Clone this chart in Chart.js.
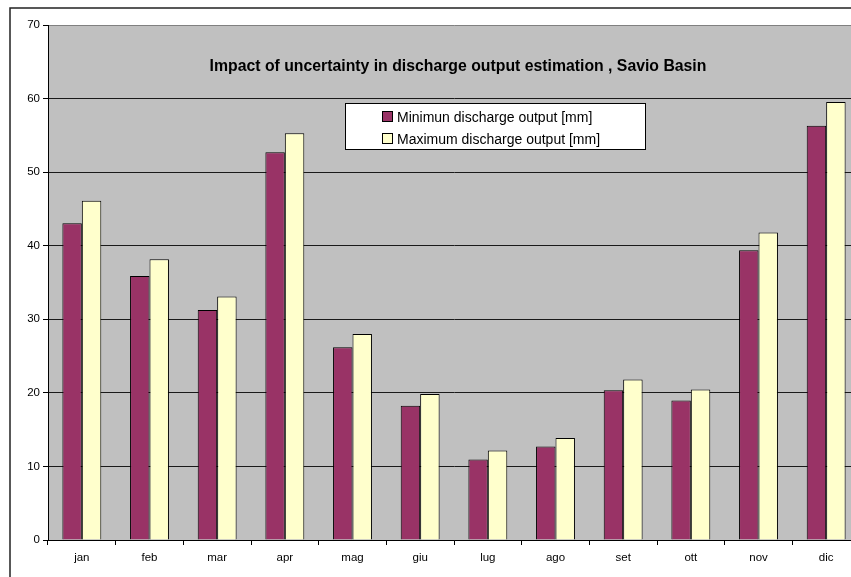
<!DOCTYPE html>
<html>
<head>
<meta charset="utf-8">
<title>Savio Basin</title>
<script src="https://cdn.jsdelivr.net/npm/chart.js@4"></script>
<style>
  html, body { margin: 0; padding: 0; background: #fff; overflow: hidden; }
  #wrap { position: absolute; left: 0; top: 0; width: 870px; height: 590px; }
</style>
</head>
<body>
<div id="wrap"><canvas id="grafico"></canvas></div>
<script>
// datos del grafico
const mesi = ['jan', 'feb', 'mar', 'apr', 'mag', 'giu', 'lug', 'ago', 'set', 'ott', 'nov', 'dic'];
const minimo = [43.05, 35.9, 31.25, 52.7, 26.2, 18.25, 10.95, 12.7, 20.35, 18.95, 39.4, 56.3];
const massimo = [46.1, 38.15, 33.1, 55.3, 28.0, 19.85, 12.15, 13.85, 21.8, 20.45, 41.8, 59.55];
const yTicks = [0, 10, 20, 30, 40, 50, 60, 70];
const titolo = 'Impact of uncertainty in discharge output estimation , Savio Basin';
const etichette = ['Minimun discharge output [mm]', 'Maximum discharge output [mm]'];

const font = "'Liberation Sans', Arial, sans-serif";

// fondo gris del area y borde exterior
const fondo = {
  id: 'fondo',
  beforeDraw(chart) {
    const { ctx, chartArea: a } = chart;
    ctx.save();
    ctx.fillStyle = '#c0c0c0';
    ctx.fillRect(a.left, a.top, a.right - a.left, a.bottom - a.top);
    ctx.strokeStyle = '#222';
    ctx.lineWidth = 1.5;
    ctx.strokeRect(10, 8, 900, 700);
    ctx.restore();
  }
};

// titulo y leyenda dentro del area
const extras = {
  id: 'extras',
  afterDraw(chart) {
    const ctx = chart.ctx;
    ctx.save();
    ctx.fillStyle = '#000';
    ctx.font = 'bold 15.8px ' + font;
    ctx.textAlign = 'center';
    ctx.textBaseline = 'middle';
    ctx.fillText(titolo, 458, 67);

    // caja de la leyenda
    ctx.fillStyle = '#fff';
    ctx.fillRect(345.5, 103.5, 300, 46);
    ctx.strokeStyle = '#000';
    ctx.lineWidth = 1;
    ctx.strokeRect(345.5, 103.5, 300, 46);

    ctx.font = '14px ' + font;
    ctx.textAlign = 'left';
    chart.data.datasets.forEach((ds, i) => {
      const y = i === 0 ? 117 : 139;
      ctx.fillStyle = ds.backgroundColor;
      ctx.fillRect(383, y - 5, 9, 9);
      ctx.strokeStyle = '#000';
      ctx.strokeRect(382.5, y - 5.5, 10, 10);
      ctx.fillStyle = '#000';
      ctx.fillText(etichette[i], 397, y + 1);
    });
    ctx.restore();
  }
};

const ctx = document.getElementById('grafico').getContext('2d');
let grafico = new Chart(ctx, {
  type: 'bar',
  data: {
    labels: mesi,
    datasets: [
      {
        label: etichette[0],
        data: minimo,
        backgroundColor: '#993366',
        borderColor: '#000',
        borderWidth: 1
      },
      {
        label: etichette[1],
        data: massimo,
        backgroundColor: '#ffffcc',
        borderColor: '#000',
        borderWidth: 1
      }
    ]
  },
  options: {
    responsive: true,
    maintainAspectRatio: false,
    animation: false,
    layout: { padding: { top: 25, right: 10, bottom: 0, left: 0 } },
    datasets: {
      bar: { categoryPercentage: 0.575, barPercentage: 1 }
    },
    plugins: {
      legend: { display: false },
      title: { display: false },
      tooltip: { enabled: false }
    },
    scales: {
      x: {
        afterFit(scale) { scale.height = 50; },
        grid: {
          display: true,
          drawOnChartArea: false,
          drawTicks: true,
          tickLength: 5,
          color: '#000',
          offset: true
        },
        border: { color: '#000', width: 1 },
        ticks: {
          color: '#000',
          font: { family: font, size: 11.5 },
          padding: 6
        }
      },
      y: {
        min: 0,
        max: 70,
        afterFit(scale) { scale.width = 48; },
        afterBuildTicks(scale) {
          scale.ticks = yTicks.map(v => ({ value: v }));
        },
        grid: {
          color: c => (c.tick && c.tick.value === 70 ? '#808080' : '#1a1a1a'),
          lineWidth: 1,
          drawTicks: true,
          tickLength: 5,
          tickColor: '#000'
        },
        border: { color: '#000', width: 1 },
        ticks: {
          color: '#000',
          font: { family: font, size: 11.5 },
          padding: 3
        }
      }
    }
  },
  plugins: [fondo, extras]
});
</script>
</body>
</html>
